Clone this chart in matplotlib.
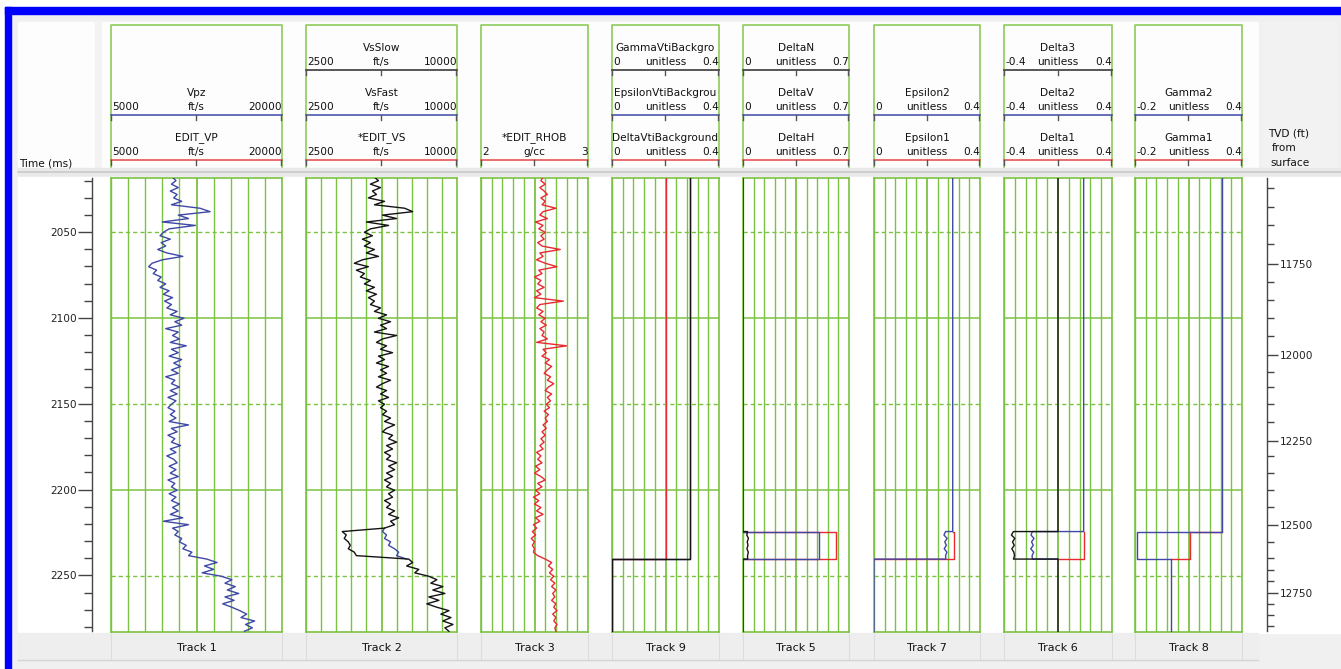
import numpy as np
import matplotlib
matplotlib.use('Agg')
import matplotlib.pyplot as plt
from matplotlib.patches import Rectangle

W, H, DPI = 1341, 669, 100

# ---------------------------------------------------------------- data
# sample grid of the well logs (two-way time, ms)
time_ms = np.arange(2018, 2283, 2)

# Track 1 : Vpz (ft/s)
vpz = [10400, 10700, 10300, 10900, 10200, 10800, 10500, 11200, 10300, 12800,
       13700, 10900, 11800, 9500, 12400, 10100, 9600, 9300, 10200, 9400,
       9800, 9100, 9900, 11300, 9500, 8600, 8300, 9000, 8700, 9400,
       9100, 9800, 9300, 10100, 9600, 10400, 9700, 10300, 9900, 10800,
       10200, 11400, 10600, 11200, 9800, 10900, 10400, 11000, 10200, 11600,
       10300, 10900, 10100, 11200, 10500, 11100, 10300, 10900, 9800, 10600,
       10300, 11000, 10200, 10800, 10000, 10700, 10300, 10000, 10600, 10200,
       10700, 10100, 11800, 10300, 10800, 10000, 10600, 10300, 11100, 10200,
       10700, 9900, 10500, 10800, 10100, 10700, 10200, 10900, 10000, 10600,
       10300, 10800, 10100, 10700, 10300, 11000, 10400, 10900, 10200, 11300,
       9600, 11800, 10400, 10900, 10600, 11200, 11000, 11600, 11300, 12100,
       11800, 13400, 14300, 13200, 14000, 13000, 14700, 15600, 15000, 15900,
       15200, 16200, 15000, 15800, 14800, 15600, 16300, 16900, 16400, 17600,
       16800, 17400, 16700]

# Track 2 : VsSlow (ft/s)
vs_slow = [5900, 6100, 5700, 6200, 5800, 6000, 5600, 6400, 5900, 7400,
           7800, 6300, 7000, 5500, 6600, 5700, 5400, 5800, 5300, 5700,
           5400, 5900, 5500, 6100, 5300, 4900, 5600, 5000, 5400, 5200,
           5700, 5400, 5900, 5500, 6000, 5600, 5900, 5700, 6200, 5900,
           6500, 6100, 6700, 6200, 6500, 5900, 7000, 6300, 6000, 6500,
           6200, 6800, 6100, 6400, 6000, 6600, 6200, 6500, 6100, 6700,
           6300, 6000, 6500, 6200, 6600, 6100, 6400, 6200, 6500, 6300,
           6700, 6400, 6900, 6500, 6300, 6800, 6600, 7000, 6500, 6800,
           6400, 6700, 6500, 7000, 6600, 6900, 6500, 6800, 6400, 6700,
           6500, 6900, 6600, 6800, 6400, 6700, 6500, 6900, 6600, 7100,
           6700, 6900, 6400, 4300, 4500, 4400, 4600, 4700, 4600, 4900,
           5000, 7600, 7800, 7500, 8100, 7900, 8600, 9000, 8700, 9300,
           8800, 9400, 8600, 9100, 8500, 9000, 9600, 9200, 9700, 9300,
           9800, 9400, 9600]

# Track 2 : VsFast where it departs from VsSlow
vs_fast_t = [2222, 2224, 2226, 2228, 2230, 2232, 2234, 2236, 2238, 2240]
vs_fast_v = [6400, 6300, 6500, 6400, 6700, 6600, 6900, 7100, 7000, 7500]

# Track 3 : *EDIT_RHOB (g/cc)
rhob = [2.58, 2.56, 2.60, 2.55, 2.59, 2.62, 2.56, 2.60, 2.57, 2.70,
        2.58, 2.55, 2.62, 2.51, 2.58, 2.54, 2.60, 2.56, 2.59, 2.53,
        2.57, 2.74, 2.55, 2.58, 2.52, 2.60, 2.71, 2.54, 2.57, 2.50,
        2.56, 2.53, 2.59, 2.52, 2.56, 2.50, 2.77, 2.55, 2.52, 2.58,
        2.54, 2.60, 2.56, 2.61, 2.55, 2.59, 2.57, 2.62, 2.52, 2.80,
        2.58, 2.61, 2.57, 2.64, 2.60, 2.66, 2.62, 2.59, 2.65, 2.62,
        2.68, 2.63, 2.60, 2.66, 2.62, 2.65, 2.61, 2.64, 2.59, 2.63,
        2.60, 2.62, 2.58, 2.61, 2.57, 2.60, 2.56, 2.59, 2.55, 2.58,
        2.52, 2.56, 2.53, 2.57, 2.51, 2.55, 2.50, 2.56, 2.60, 2.53,
        2.57, 2.51, 2.55, 2.49, 2.54, 2.50, 2.56, 2.52, 2.58, 2.51,
        2.55, 2.49, 2.52, 2.48, 2.51, 2.47, 2.50, 2.48, 2.50, 2.49,
        2.53, 2.60, 2.66, 2.63, 2.67, 2.64, 2.68, 2.65, 2.69, 2.66,
        2.70, 2.67, 2.69, 2.66, 2.70, 2.68, 2.71, 2.67, 2.70, 2.68,
        2.71, 2.69, 2.70]

# anisotropy zone (ms) and in-zone samples
zone_top, zone_bot = 2224, 2240
zone_t = [2224, 2226, 2228, 2230, 2232, 2234, 2236, 2238, 2240]
deltaN_zone = [0.030, 0.025, 0.036, 0.028, 0.033, 0.026, 0.035, 0.030, 0.031]
eps2_zone = [0.270, 0.264, 0.276, 0.267, 0.273, 0.265, 0.275, 0.270, 0.271]
delta3_zone = [-0.33, -0.345, -0.32, -0.337, -0.324, -0.342, -0.327, -0.322, -0.33]
delta2_zone = [-0.19, -0.20, -0.178, -0.196, -0.183, -0.202, -0.18, -0.192, -0.19]

# piecewise values: (above zone, in zone, below zone)
gamma_vti = (0.29, 0.29, 0.0)
epsilon_vti = (0.29, 0.29, 0.0)
delta_vti = (0.20, 0.20, 0.0)
deltaV = (0.0, 0.50, 0.0)
deltaH = (0.0, 0.617, 0.0)
deltaN_out = (0.0, 0.0)
epsilon2_out = (0.297, 0.0)
epsilon1 = (0.297, 0.302, 0.0)
delta3_out = (0.0, 0.0)
delta2_out = (0.19, 0.0)
delta1 = (0.19, 0.19, 0.0)
gamma2 = (0.29, -0.19, 0.0)
gamma1 = (0.29, 0.11, 0.0)

# TVD (ft) vs time (ms) ticks of the right-hand axis
tvd_ft = [11550, 11600, 11650, 11700, 11750, 11800, 11850, 11900, 11950, 12000,
          12050, 12100, 12150, 12200, 12250, 12300, 12350, 12400, 12450, 12500,
          12550, 12600, 12650, 12700, 12750, 12800, 12850, 12900]
tvd_time = [2024.2, 2035.3, 2045.8, 2056.8, 2068.4, 2078.9, 2089.4, 2099.8, 2110.3, 2121.3,
            2131.2, 2140.5, 2150.4, 2160.9, 2171.7, 2180.6, 2190.5, 2200.4, 2210.3, 2220.8,
            2230.7, 2240.0, 2246.8, 2253.3, 2260.0, 2266.6, 2273.0, 2279.4]

time_major = [2050, 2100, 2150, 2200, 2250]
time_minor = [2020, 2030, 2040, 2060, 2070, 2080, 2090, 2110, 2120, 2130, 2140,
              2160, 2170, 2180, 2190, 2210, 2220, 2230, 2240, 2260, 2270, 2280]

track_labels = ['Track 1', 'Track 2', 'Track 3', 'Track 9', 'Track 5',
                'Track 7', 'Track 6', 'Track 8']
scale_lo = [5000, 2500, 2, 0, 0, 0, -0.4, -0.2]
scale_hi = [20000, 10000, 3, 0.4, 0.7, 0.4, 0.4, 0.4]
scale_lo_txt = ['5000', '2500', '2', '0', '0', '0', '-0.4', '-0.2']
scale_hi_txt = ['20000', '10000', '3', '0.4', '0.7', '0.4', '0.4', '0.4']
units = ['ft/s', 'ft/s', 'g/cc', 'unitless', 'unitless', 'unitless', 'unitless', 'unitless']
# curve names per header row (top, middle, bottom)
row_names = [
    [None, 'Vpz', 'EDIT_VP'],
    ['VsSlow', 'VsFast', '*EDIT_VS'],
    [None, None, '*EDIT_RHOB'],
    ['GammaVtiBackgro', 'EpsilonVtiBackgrou', 'DeltaVtiBackground'],
    ['DeltaN', 'DeltaV', 'DeltaH'],
    [None, 'Epsilon2', 'Epsilon1'],
    ['Delta3', 'Delta2', 'Delta1'],
    [None, 'Gamma2', 'Gamma1'],
]

# ---------------------------------------------------------------- style / layout
GREEN = '#7cc242'
GREEN_HDR = '#8dcb5a'
C_BLACK = '#141414'
C_BLUE = '#3f48a6'
C_RED = '#e82a2e'
ROW_COL = ['#3a3a3a', '#4d58ad', '#e85555']
TXT = '#111111'
FS = 7.6
LW = 1.0

track_x = [(111, 282), (306, 457), (481, 588), (612, 719),
           (743, 849), (874, 980), (1004, 1112), (1135, 1242)]
DATA_Y0, DATA_Y1 = 178, 632
T_TOP, T_BOT = 2018.43, 2282.4
HDR_Y0, HDR_Y1 = 25, 167
ROW_Y = [70, 115, 160]

fig = plt.figure(figsize=(W / DPI, H / DPI), dpi=DPI, facecolor='#f0f0f0')


def px_axes(x0, y0, x1, y1, **kw):
    return fig.add_axes([x0 / W, 1 - y1 / H, (x1 - x0) / W, (y1 - y0) / H], **kw)


bg = fig.add_axes([0, 0, 1, 1], zorder=0)
bg.set_xlim(0, W)
bg.set_ylim(H, 0)
bg.axis('off')

# backgrounds
bg.add_patch(Rectangle((0, 0), W, H, color='#ffffff', zorder=0))
bg.add_patch(Rectangle((11, 14), W - 11, H - 14, color='#f0f0f0', zorder=0))
bg.add_patch(Rectangle((18, 22), 1240, 148, color='#fdfdfd', zorder=0))
bg.add_patch(Rectangle((95, 22), 6, 148, color='#f3f3f3', zorder=0))
bg.add_patch(Rectangle((1262, 22), 74, 150, color='#f2f2f2', zorder=0))
bg.add_patch(Rectangle((18, 168), W - 18, 9, color='#e9e9e9', zorder=0))
bg.plot([18, W], [172, 172], color='#c9c9c9', lw=1.2, zorder=1)
bg.add_patch(Rectangle((18, 177), W - 18, 456, color='#ffffff', zorder=0))
bg.add_patch(Rectangle((18, 633), 1240, 27, color='#eeeeee', zorder=0))
bg.plot([18, 1258], [660, 660], color='#d4d4d4', lw=1.0, zorder=1)
# blue frame
bg.add_patch(Rectangle((5, 7), 6, H - 7, color='#0000ff', zorder=5))
bg.add_patch(Rectangle((5, 7), W - 5, 7, color='#0000ff', zorder=5))

# headers
bg.text(19, 163, 'Time (ms)', fontsize=FS, color=TXT, ha='left', va='center')
bg.text(1268, 134, 'TVD (ft)', fontsize=FS, color=TXT, ha='left', va='center')
bg.text(1272, 148, 'from', fontsize=FS, color=TXT, ha='left', va='center')
bg.text(1270, 163, 'surface', fontsize=FS, color=TXT, ha='left', va='center')

for i, (x0, x1) in enumerate(track_x):
    # green header box
    bg.plot([x0, x0, x1, x1], [HDR_Y1, HDR_Y0, HDR_Y0, HDR_Y1], color=GREEN_HDR, lw=1.2, zorder=2)
    xm = (x0 + x1) / 2
    for r, name in enumerate(row_names[i]):
        if name is None:
            continue
        y = ROW_Y[r]
        bg.plot([x0, x1], [y, y], color=ROW_COL[r], lw=1.2, zorder=3)
        for xt in (x0 + 0.5, xm, x1 - 0.5):
            bg.plot([xt, xt], [y, y + 4.5], color='#555555', lw=1.0, zorder=3)
        bg.text(xm, y - 22, name, fontsize=FS, color=TXT, ha='center', va='center')
        bg.text(xm, y - 8, units[i], fontsize=FS, color=TXT, ha='center', va='center')
        bg.text(x0 + 1, y - 8, scale_lo_txt[i], fontsize=FS, color=TXT, ha='left', va='center')
        bg.text(x1, y - 8, scale_hi_txt[i], fontsize=FS, color=TXT, ha='right', va='center')
    # bottom label cell
    bg.plot([x0, x0], [634, 659], color='#dcdcdc', lw=0.8, zorder=1)
    bg.plot([x1, x1], [634, 659], color='#dcdcdc', lw=0.8, zorder=1)
    bg.text(xm, 648, track_labels[i], fontsize=8, color=TXT, ha='center', va='center')


# ---------------------------------------------------------------- tracks
def piecewise(vals, zt=None, zv=None, above=True, below=True):
    """above / in-zone / below representation -> (t, v) arrays.
    Segments hidden under another curve can be left out; the
    horizontal steps at the zone edges are always kept."""
    a, b = vals[0], vals[-1]
    if zt is None:
        zt, zv = [zone_top, zone_bot], [vals[1], vals[1]]
    t, v = [], []
    if above:
        t += [T_TOP]
        v += [a]
    t += [zt[0]]
    v += [a]
    t += list(zt)
    v += list(zv)
    t += [zt[-1]]
    v += [b]
    if below:
        t += [T_BOT]
        v += [b]
    return t, v


curves = [
    [(time_ms, vpz, C_BLUE)],
    [(vs_fast_t, vs_fast_v, C_BLUE), (time_ms, vs_slow, C_BLACK)],
    [(time_ms, rhob, C_RED)],
    [(*piecewise(delta_vti, below=False), C_RED),
     (*piecewise(epsilon_vti), C_BLUE),
     (*piecewise(gamma_vti), C_BLACK)],
    [(*piecewise(deltaH, above=False, below=False), C_RED),
     (*piecewise(deltaV, above=False, below=False), C_BLUE),
     (*piecewise(deltaN_out, zone_t, deltaN_zone), C_BLACK)],
    [(*piecewise(epsilon1, above=False, below=False), C_RED),
     (*piecewise(epsilon2_out, zone_t, eps2_zone), C_BLUE)],
    [(*piecewise(delta1, above=False, below=False), C_RED),
     (*piecewise(delta2_out, zone_t, delta2_zone, below=False), C_BLUE),
     (*piecewise(delta3_out, zone_t, delta3_zone), C_BLACK)],
    [(*piecewise(gamma1, above=False, below=False), C_RED),
     (*piecewise(gamma2), C_BLUE)],
]

for i, (x0, x1) in enumerate(track_x):
    ax = px_axes(x0, DATA_Y0, x1, DATA_Y1, zorder=2)
    ax.set_facecolor('white')
    lo, hi = scale_lo[i], scale_hi[i]
    ax.set_xlim(lo, hi)
    ax.set_ylim(T_BOT, T_TOP)
    ax.set_xticks([])
    ax.set_yticks([])
    for sp in ax.spines.values():
        sp.set_color(GREEN)
        sp.set_linewidth(1.2)
    for k, gx in enumerate(np.linspace(lo, hi, 11)):
        ax.axvline(gx, color=GREEN, lw=1.3 if k == 5 else 1.0, zorder=1)
    for tm in time_major:
        solid = tm in (2100, 2200)
        ax.axhline(tm, color=GREEN, lw=1.1 if solid else 1.0,
                   ls='-' if solid else (0, (3, 2.2)), zorder=1)
    for t, v, c in curves[i]:
        ax.plot(v, t, color=c, lw=LW, zorder=3, clip_on=True)

# time axis (left)
axt = px_axes(92, DATA_Y0, 92.5, DATA_Y1 - 1, zorder=3)
axt.set_facecolor('none')
axt.set_ylim(T_BOT, T_TOP)
for s in ('right', 'top', 'bottom'):
    axt.spines[s].set_visible(False)
axt.spines['left'].set_color('#444444')
axt.spines['left'].set_linewidth(1.0)
axt.set_xticks([])
axt.set_yticks(time_major, labels=[str(t) for t in time_major])
axt.set_yticks(time_minor, minor=True)
axt.tick_params(axis='y', which='major', length=10, width=1.0, color='#444444',
                labelsize=FS, labelcolor='#222222', pad=1)
axt.tick_params(axis='y', which='minor', length=6, width=1.0, color='#444444')

# TVD axis (right)
axd = px_axes(1266.5, DATA_Y0, 1267, DATA_Y1 - 1, zorder=3)
axd.set_facecolor('none')
axd.set_ylim(T_BOT, T_TOP)
for s in ('left', 'top', 'bottom'):
    axd.spines[s].set_visible(False)
axd.spines['right'].set_color('#444444')
axd.spines['right'].set_linewidth(1.0)
axd.set_xticks([])
axd.yaxis.tick_right()
maj = [(d, t) for d, t in zip(tvd_ft, tvd_time) if d % 250 == 0]
mnr = [t for d, t in zip(tvd_ft, tvd_time) if d % 250 != 0]
axd.set_yticks([t for d, t in maj], labels=[str(d) for d, t in maj])
axd.set_yticks(mnr, minor=True)
axd.tick_params(axis='y', which='major', length=8, width=1.0, color='#444444',
                labelsize=FS, labelcolor='#222222', pad=1)
axd.tick_params(axis='y', which='minor', length=5, width=1.0, color='#444444')

fig.savefig('out.png', dpi=DPI, facecolor=fig.get_facecolor())
